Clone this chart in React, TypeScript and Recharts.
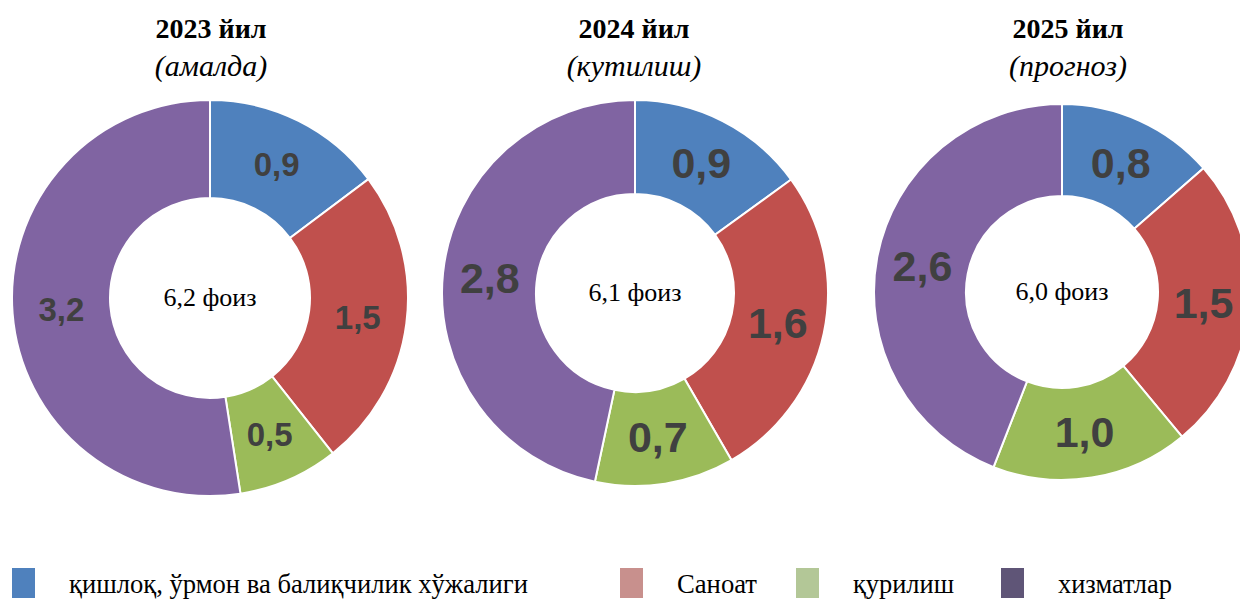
import { PieChart, Pie, Cell } from "recharts";

const categories = ["қишлоқ, ўрмон ва балиқчилик хўжалиги", "Саноат", "қурилиш", "хизматлар"];
const sliceColors = ["#4f81bd", "#c0504d", "#9bbb59", "#8064a2"];
const legendColors = ["#4f81bd", "#c8908d", "#b3c797", "#5f5577"];

const years = ["2023 йил", "2024 йил", "2025 йил"];
const subtitles = ["(амалда)", "(кутилиш)", "(прогноз)"];
const totals = ["6,2 фоиз", "6,1 фоиз", "6,0 фоиз"];

const values2023 = [0.9, 1.5, 0.5, 3.2];
const values2024 = [0.9, 1.6, 0.7, 2.8];
const values2025 = [0.8, 1.5, 1.0, 2.6];

const pies = [
  { values: values2023, cx: 210, cy: 298, inner: 100, outer: 198, font: 33, titleX: 211 },
  { values: values2024, cx: 635, cy: 293, inner: 99, outer: 193, font: 43, titleX: 634 },
  { values: values2025, cx: 1062, cy: 292, inner: 96, outer: 188, font: 43, titleX: 1068 },
];

const legendX = [12, 620, 796, 1001];
const legendWidths = [459, 80, 101, 114];
const RADIAN = Math.PI / 180;

const fmt = (v: number) => v.toFixed(1).replace(".", ",");

function makeLabel(fontSize: number) {
  return (props: any) => {
    const { cx, cy, midAngle, innerRadius, outerRadius, value } = props;
    const r = (innerRadius + outerRadius) / 2;
    const x = cx + r * Math.cos(-midAngle * RADIAN);
    const y = cy + r * Math.sin(-midAngle * RADIAN);
    return (
      <text
        x={x}
        y={y}
        textAnchor="middle"
        dominantBaseline="central"
        fill="#404040"
        fontSize={fontSize}
        fontWeight="bold"
        fontFamily="'Liberation Sans', Arial, sans-serif"
      >
        {fmt(value)}
      </text>
    );
  };
}

export default function App() {
  return (
    <div
      style={{
        position: "absolute",
        left: 0,
        top: 0,
        width: 1240,
        height: 601,
        overflow: "hidden",
        background: "#fff",
      }}
    >
      <PieChart
        width={1240}
        height={601}
        margin={{ top: 0, right: 0, bottom: 0, left: 0 }}
        style={{ position: "absolute", left: 0, top: 0 }}
      >
        {pies.map((p, i) => (
          <Pie
            key={i}
            data={p.values.map((v, j) => ({ name: categories[j], value: v }))}
            dataKey="value"
            cx={p.cx}
            cy={p.cy}
            innerRadius={p.inner}
            outerRadius={p.outer}
            startAngle={90}
            endAngle={-270}
            stroke="#ffffff"
            strokeWidth={2}
            label={makeLabel(p.font)}
            labelLine={false}
            isAnimationActive={false}
          >
            {p.values.map((_, j) => (
              <Cell key={j} fill={sliceColors[j]} />
            ))}
          </Pie>
        ))}
      </PieChart>
      <svg
        width={1240}
        height={601}
        style={{ position: "absolute", left: 0, top: 0, pointerEvents: "none" }}
        fontFamily="'Liberation Serif', 'Times New Roman', serif"
      >
        {pies.map((p, i) => (
          <g key={i}>
            <text x={p.titleX} y={38} textAnchor="middle" fontSize={28} fontWeight="bold" fill="#000">
              {years[i]}
            </text>
            <text x={p.titleX} y={76} textAnchor="middle" fontSize={30} fontStyle="italic" fill="#000">
              {subtitles[i]}
            </text>
            <text x={p.cx} y={p.cy + 8} textAnchor="middle" fontSize={26} fill="#000">
              {totals[i]}
            </text>
          </g>
        ))}
        {categories.map((c, i) => (
          <g key={c}>
            <rect x={legendX[i]} y={568} width={23} height={30} fill={legendColors[i]} />
            <text
              x={legendX[i] + 57}
              y={593}
              fontSize={28}
              fill="#000"
              textLength={legendWidths[i]}
              lengthAdjust="spacingAndGlyphs"
            >
              {c}
            </text>
          </g>
        ))}
      </svg>
    </div>
  );
}
